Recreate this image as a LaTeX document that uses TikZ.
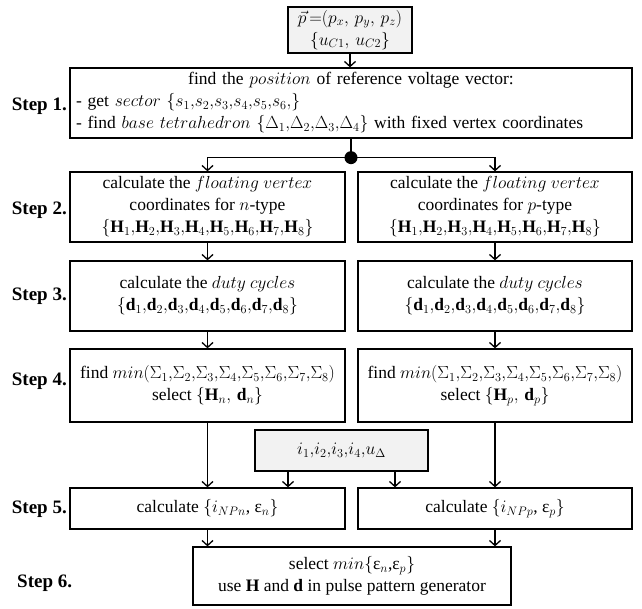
\documentclass[tikz,border=0pt]{standalone}
\usepackage{fix-cm}
\usepackage{amsmath}
\usepackage{fontspec}
\setmainfont{Liberation Serif}
\usetikzlibrary{positioning,calc,arrows.meta}
\definecolor{inbg}{HTML}{F2F2F2}

\tikzset{
  stepbox/.style={draw, line width=1.3pt, align=center, inner sep=0pt,
    font=\fontsize{17.5}{22}\selectfont},
  inbox/.style={stepbox, fill=inbg},
  steplabel/.style={font=\fontsize{19}{22}\selectfont\bfseries, inner sep=0pt},
  flow/.style={line width=1.3pt, -{Straight Barb[length=5pt,width=11pt]}},
  link/.style={line width=1.3pt},
}

\begin{document}
\begin{tikzpicture}[x=1pt, y=-1pt]
  \useasboundingbox (0,0) rectangle (642,608);

  % Inputs
  \node[inbox, minimum width=124pt, minimum height=46pt] (vref) at (350,30)
    {$\vec{p}\,{=}(p_x,\, p_y,\, p_z)$\\$\{u_{C1},\, u_{C2}\}$};

  % Step 1
  \node[stepbox, minimum width=562pt, minimum height=70pt, text width=550pt, align=left] (find) at (351,103)
    {\makebox[550pt][c]{find the $position$ of reference voltage vector:}\\
     - get $sector$ $\{s_1{,}s_2{,}s_3{,}s_4{,}s_5{,}s_6{,}\}$\\
     - find $base\ tetrahedron$ $\{\Delta_1{,}\Delta_2{,}\Delta_3{,}\Delta_4\}$ with fixed vertex coordinates};

  % Step 2
  \node[stepbox, minimum width=275pt, minimum height=70pt] (floatn) at (207.5,207)
    {calculate the $floating\ vertex$\\coordinates for $n$-type\\
     $\{\mathbf{H}_1{,}\mathbf{H}_2{,}\mathbf{H}_3{,}\mathbf{H}_4{,}\mathbf{H}_5{,}\mathbf{H}_6{,}\mathbf{H}_7{,}\mathbf{H}_8\}$};
  \node[stepbox, minimum width=274pt, minimum height=70pt] (floatp) at (495,207)
    {calculate the $floating\ vertex$\\coordinates for $p$-type\\
     $\{\mathbf{H}_1{,}\mathbf{H}_2{,}\mathbf{H}_3{,}\mathbf{H}_4{,}\mathbf{H}_5{,}\mathbf{H}_6{,}\mathbf{H}_7{,}\mathbf{H}_8\}$};

  % Step 3
  \node[stepbox, minimum width=275pt, minimum height=70pt] (dutyn) at (207.5,296)
    {calculate the $duty\ cycles$\\
     $\{\mathbf{d}_1{,}\mathbf{d}_2{,}\mathbf{d}_3{,}\mathbf{d}_4{,}\mathbf{d}_5{,}\mathbf{d}_6{,}\mathbf{d}_7{,}\mathbf{d}_8\}$};
  \node[stepbox, minimum width=274pt, minimum height=70pt] (dutyp) at (495,296)
    {calculate the $duty\ cycles$\\
     $\{\mathbf{d}_1{,}\mathbf{d}_2{,}\mathbf{d}_3{,}\mathbf{d}_4{,}\mathbf{d}_5{,}\mathbf{d}_6{,}\mathbf{d}_7{,}\mathbf{d}_8\}$};

  % Step 4
  \node[stepbox, minimum width=275pt, minimum height=73pt] (minn) at (207.5,385.5)
    {find $min(\Sigma_1{,}\Sigma_2{,}\Sigma_3{,}\Sigma_4{,}\Sigma_5{,}\Sigma_6{,}\Sigma_7{,}\Sigma_8)$\\
     select $\{\mathbf{H}_n,\, \mathbf{d}_n\}$};
  \node[stepbox, minimum width=274pt, minimum height=73pt] (minp) at (495,385.5)
    {find $min(\Sigma_1{,}\Sigma_2{,}\Sigma_3{,}\Sigma_4{,}\Sigma_5{,}\Sigma_6{,}\Sigma_7{,}\Sigma_8)$\\
     select $\{\mathbf{H}_p,\, \mathbf{d}_p\}$};

  % Measured values
  \node[inbox, minimum width=173pt, minimum height=41pt] (meas) at (341.5,450.5)
    {$i_1{,}i_2{,}i_3{,}i_4{,}u_\Delta$};

  % Step 5
  \node[stepbox, minimum width=275pt, minimum height=41pt] (calcn) at (207.5,508.5)
    {calculate $\{i_{NPn}$, ε$_n\}$};
  \node[stepbox, minimum width=274pt, minimum height=41pt] (calcp) at (495,508.5)
    {calculate $\{i_{NPp}$, ε$_p\}$};

  % Step 6
  \node[stepbox, minimum width=318pt, minimum height=58pt] (sel) at (352,576)
    {select $min\{$ε$_n${,}ε$_p\}$\\use $\mathbf{H}$ and $\mathbf{d}$ in pulse pattern generator};

  % Step labels
  \node[steplabel, anchor=east] (lab1) at (67,106) {Step 1.};
  \node[steplabel, anchor=east] (lab2) at (67,210) {Step 2.};
  \node[steplabel, anchor=east] (lab3) at (67,296) {Step 3.};
  \node[steplabel, anchor=east] (lab4) at (67,381) {Step 4.};
  \node[steplabel, anchor=east] (lab5) at (67,509) {Step 5.};
  \node[steplabel, anchor=west] (lab6) at (17,583) {Step 6.};

  % Connectors
  \draw[flow] (vref.south) -- (vref.south |- find.north);
  \coordinate (split) at ($(find.south)+(0,19)$);
  \draw[link] (find.south) -- (split);
  \draw[flow] (split) -| (floatn.north);
  \draw[flow] (split) -| (floatp.north);
  \fill (split) circle (6.5pt);

  \draw[flow] (floatn.south) -- (dutyn.north);
  \draw[flow] (floatp.south) -- (dutyp.north);
  \draw[flow] (dutyn.south) -- (minn.north);
  \draw[flow] (dutyp.south) -- (minp.north);
  \draw[flow] (minn.south) -- (calcn.north);
  \draw[flow] (minp.south) -- (calcp.north);

  \coordinate (measn) at ($(meas.south)+(-53.5,0)$);
  \coordinate (measp) at ($(meas.south)+(53.5,0)$);
  \draw[flow] (measn) -- (measn |- calcn.north);
  \draw[flow] (measp) -- (measp |- calcp.north);

  \draw[flow] (calcn.south) -- (calcn.south |- sel.north);
  \draw[flow] (calcp.south) -- (calcp.south |- sel.north);
\end{tikzpicture}
\end{document}
